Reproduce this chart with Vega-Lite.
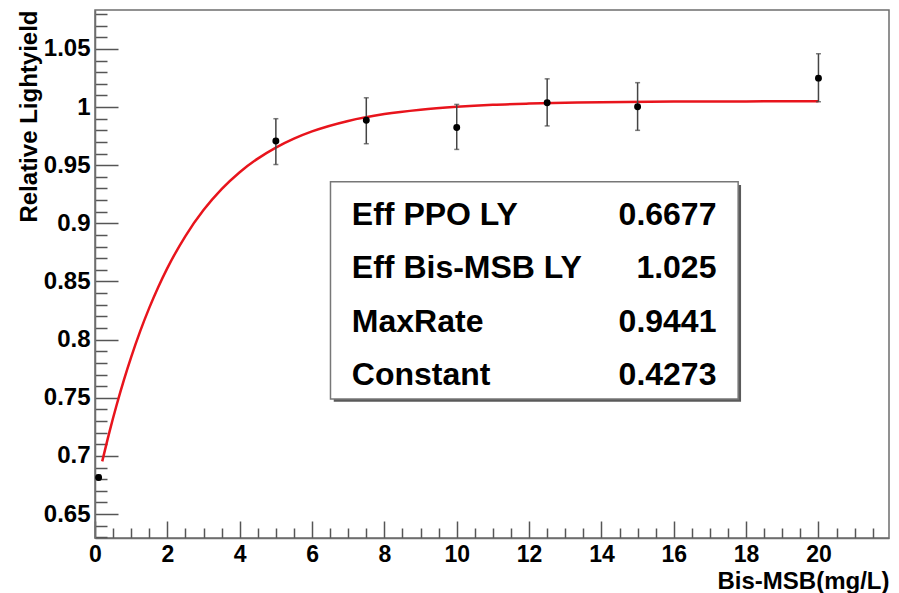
{
  "$schema": "https://vega.github.io/schema/vega-lite/v6.json",
  "width": 794,
  "height": 528,
  "autosize": "none",
  "padding": {"left": 95, "top": 10, "right": 10, "bottom": 55},
  "background": "white",
  "config": {
    "view": {"stroke": "#6e6e6e", "strokeWidth": 1.5},
    "font": "Liberation Sans"
  },
  "datasets": {
    "points": [
      {"conc": 0.1, "ly": 0.6815, "lo": 0.6795, "hi": 0.6835},
      {"conc": 5, "ly": 0.9708, "lo": 0.9506, "hi": 0.990},
      {"conc": 7.5, "ly": 0.9887, "lo": 0.9685, "hi": 1.008},
      {"conc": 10, "ly": 0.9824, "lo": 0.9636, "hi": 1.0023},
      {"conc": 12.5, "ly": 1.0037, "lo": 0.9838, "hi": 1.0243},
      {"conc": 15, "ly": 1.0003, "lo": 0.980, "hi": 1.021},
      {"conc": 20, "ly": 1.0249, "lo": 1.0046, "hi": 1.0459}
    ],
    "fit": [
      {"conc": 0.2, "ly": 0.6953},
      {"conc": 0.4, "ly": 0.7207},
      {"conc": 0.6, "ly": 0.7440},
      {"conc": 0.8, "ly": 0.7654},
      {"conc": 1.0, "ly": 0.7850},
      {"conc": 1.25, "ly": 0.8073},
      {"conc": 1.5, "ly": 0.8273},
      {"conc": 1.75, "ly": 0.8453},
      {"conc": 2.0, "ly": 0.8615},
      {"conc": 2.5, "ly": 0.8891},
      {"conc": 3.0, "ly": 0.9114},
      {"conc": 3.5, "ly": 0.9294},
      {"conc": 4.0, "ly": 0.9440},
      {"conc": 4.5, "ly": 0.9557},
      {"conc": 5.0, "ly": 0.9652},
      {"conc": 5.5, "ly": 0.9729},
      {"conc": 6.0, "ly": 0.9791},
      {"conc": 7.0, "ly": 0.9881},
      {"conc": 8.0, "ly": 0.9940},
      {"conc": 9.0, "ly": 0.9978},
      {"conc": 10.0, "ly": 1.0003},
      {"conc": 11.0, "ly": 1.0020},
      {"conc": 12.0, "ly": 1.0030},
      {"conc": 13.0, "ly": 1.0037},
      {"conc": 14.0, "ly": 1.0042},
      {"conc": 16.0, "ly": 1.0047},
      {"conc": 18.0, "ly": 1.0049},
      {"conc": 20.0, "ly": 1.0050}
    ],
    "stats": [
      {"param": "Eff PPO LY", "value": "0.6677"},
      {"param": "Eff Bis-MSB LY", "value": "1.025"},
      {"param": "MaxRate", "value": "0.9441"},
      {"param": "Constant", "value": "0.4273"}
    ]
  },
  "resolve": {"axis": {"x": "independent", "y": "independent"}},
  "layer": [
    {
      "data": {"values": [{"box": "stats"}]},
      "mark": {"type": "rect", "fill": "#5a5a5a", "stroke": null},
      "encoding": {
        "x": {"datum": 6.6, "type": "quantitative", "axis": null},
        "x2": {"datum": 17.86},
        "y": {"datum": 0.933, "type": "quantitative", "axis": null},
        "y2": {"datum": 0.7465}
      }
    },
    {
      "data": {"values": [{"box": "stats"}]},
      "mark": {"type": "rect", "fill": "white", "stroke": "#777777", "strokeWidth": 1.5},
      "encoding": {
        "x": {"datum": 6.51, "type": "quantitative", "axis": null},
        "x2": {"datum": 17.78},
        "y": {"datum": 0.9358, "type": "quantitative", "axis": null},
        "y2": {"datum": 0.7489}
      }
    },
    {
      "data": {"name": "fit"},
      "mark": {"type": "line", "color": "#e8141c", "strokeWidth": 2.5, "interpolate": "monotone"},
      "encoding": {
        "x": {
          "field": "conc", "type": "quantitative",
          "scale": {"domain": [0, 21.95], "nice": false, "zero": false},
          "axis": {
            "orient": "bottom",
            "values": [0.5,1,1.5,2.5,3,3.5,4.5,5,5.5,6.5,7,7.5,8.5,9,9.5,10.5,11,11.5,12.5,13,13.5,14.5,15,15.5,16.5,17,17.5,18.5,19,19.5,20.5,21,21.5],
            "labels": false, "domain": false, "grid": false, "title": null,
            "tickSize": -10, "tickColor": "#555555", "tickWidth": 1.5
          }
        },
        "y": {
          "field": "ly", "type": "quantitative",
          "scale": {"domain": [0.6294, 1.0835], "nice": false, "zero": false},
          "axis": {
            "orient": "left",
            "values": [0.63,0.64,0.66,0.67,0.68,0.69,0.71,0.72,0.73,0.74,0.76,0.77,0.78,0.79,0.81,0.82,0.83,0.84,0.86,0.87,0.88,0.89,0.91,0.92,0.93,0.94,0.96,0.97,0.98,0.99,1.01,1.02,1.03,1.04,1.06,1.07,1.08],
            "labels": false, "domain": false, "grid": false, "title": null,
            "tickSize": -12, "tickColor": "#555555", "tickWidth": 1.5
          }
        }
      }
    },
    {
      "data": {"name": "points"},
      "mark": {"type": "errorbar", "ticks": {"size": 5}, "color": "#444444", "thickness": 1.5},
      "encoding": {
        "x": {"field": "conc", "type": "quantitative", "axis": null},
        "y": {"field": "lo", "type": "quantitative", "axis": null},
        "y2": {"field": "hi"}
      }
    },
    {
      "data": {"name": "points"},
      "mark": {"type": "point", "filled": true, "color": "black", "size": 48, "opacity": 1},
      "encoding": {
        "x": {
          "field": "conc", "type": "quantitative",
          "axis": {
            "orient": "bottom",
            "values": [0,2,4,6,8,10,12,14,16,18,20],
            "grid": false,
            "domainColor": "#6e6e6e", "domainWidth": 1.5,
            "tickSize": -17, "tickColor": "#555555", "tickWidth": 1.5,
            "labelFont": "Liberation Sans", "labelFontWeight": "bold", "labelFontSize": 23,
            "labelColor": "black", "labelBaseline": "alphabetic", "labelPadding": 40,
            "labelFlush": false, "labelOverlap": false,
            "title": "Bis-MSB(mg/L)",
            "titleFont": "Liberation Sans", "titleFontWeight": "bold", "titleFontSize": 24,
            "titleColor": "black", "titleAnchor": null, "titleAlign": "right",
            "titleBaseline": "alphabetic", "titleX": 794, "titleY": 50
          }
        },
        "y": {
          "field": "ly", "type": "quantitative",
          "axis": {
            "orient": "left",
            "values": [0.65,0.7,0.75,0.8,0.85,0.9,0.95,1,1.05],
            "format": "~g",
            "grid": false,
            "domainColor": "#6e6e6e", "domainWidth": 1.5,
            "tickSize": -23, "tickColor": "#555555", "tickWidth": 1.5,
            "labelFont": "Liberation Sans", "labelFontWeight": "bold", "labelFontSize": 24,
            "labelColor": "black", "labelBaseline": "middle", "labelAlign": "right", "labelPadding": 28,
            "labelFlush": false, "labelOverlap": false,
            "title": "Relative Lightyield",
            "titleFont": "Liberation Sans", "titleFontWeight": "bold", "titleFontSize": 24,
            "titleColor": "black", "titleAnchor": null, "titleAlign": "right", "titleAngle": 270,
            "titleBaseline": "middle", "titleX": -66, "titleY": 0
          }
        }
      }
    },
    {
      "data": {"name": "stats"},
      "transform": [{"filter": "datum.param === 'Eff PPO LY'"}],
      "layer": [
        {"mark": {"type": "text", "align": "left", "baseline": "alphabetic", "font": "Liberation Sans", "fontWeight": "bold", "fontSize": 32, "color": "black"},
         "encoding": {"text": {"field": "param", "type": "nominal"}, "x": {"datum": 7.1, "type": "quantitative", "axis": null}, "y": {"datum": 0.8986, "type": "quantitative", "axis": null}}},
        {"mark": {"type": "text", "align": "right", "baseline": "alphabetic", "font": "Liberation Sans", "fontWeight": "bold", "fontSize": 32, "color": "black"},
         "encoding": {"text": {"field": "value", "type": "nominal"}, "x": {"datum": 17.18, "type": "quantitative", "axis": null}, "y": {"datum": 0.8986, "type": "quantitative", "axis": null}}}
      ]
    },
    {
      "data": {"name": "stats"},
      "transform": [{"filter": "datum.param === 'Eff Bis-MSB LY'"}],
      "layer": [
        {"mark": {"type": "text", "align": "left", "baseline": "alphabetic", "font": "Liberation Sans", "fontWeight": "bold", "fontSize": 32, "color": "black"},
         "encoding": {"text": {"field": "param", "type": "nominal"}, "x": {"datum": 7.1, "type": "quantitative", "axis": null}, "y": {"datum": 0.8527, "type": "quantitative", "axis": null}}},
        {"mark": {"type": "text", "align": "right", "baseline": "alphabetic", "font": "Liberation Sans", "fontWeight": "bold", "fontSize": 32, "color": "black"},
         "encoding": {"text": {"field": "value", "type": "nominal"}, "x": {"datum": 17.18, "type": "quantitative", "axis": null}, "y": {"datum": 0.8527, "type": "quantitative", "axis": null}}}
      ]
    },
    {
      "data": {"name": "stats"},
      "transform": [{"filter": "datum.param === 'MaxRate'"}],
      "layer": [
        {"mark": {"type": "text", "align": "left", "baseline": "alphabetic", "font": "Liberation Sans", "fontWeight": "bold", "fontSize": 32, "color": "black"},
         "encoding": {"text": {"field": "param", "type": "nominal"}, "x": {"datum": 7.1, "type": "quantitative", "axis": null}, "y": {"datum": 0.8068, "type": "quantitative", "axis": null}}},
        {"mark": {"type": "text", "align": "right", "baseline": "alphabetic", "font": "Liberation Sans", "fontWeight": "bold", "fontSize": 32, "color": "black"},
         "encoding": {"text": {"field": "value", "type": "nominal"}, "x": {"datum": 17.18, "type": "quantitative", "axis": null}, "y": {"datum": 0.8068, "type": "quantitative", "axis": null}}}
      ]
    },
    {
      "data": {"name": "stats"},
      "transform": [{"filter": "datum.param === 'Constant'"}],
      "layer": [
        {"mark": {"type": "text", "align": "left", "baseline": "alphabetic", "font": "Liberation Sans", "fontWeight": "bold", "fontSize": 32, "color": "black"},
         "encoding": {"text": {"field": "param", "type": "nominal"}, "x": {"datum": 7.1, "type": "quantitative", "axis": null}, "y": {"datum": 0.7610, "type": "quantitative", "axis": null}}},
        {"mark": {"type": "text", "align": "right", "baseline": "alphabetic", "font": "Liberation Sans", "fontWeight": "bold", "fontSize": 32, "color": "black"},
         "encoding": {"text": {"field": "value", "type": "nominal"}, "x": {"datum": 17.18, "type": "quantitative", "axis": null}, "y": {"datum": 0.7610, "type": "quantitative", "axis": null}}}
      ]
    }
  ]
}
